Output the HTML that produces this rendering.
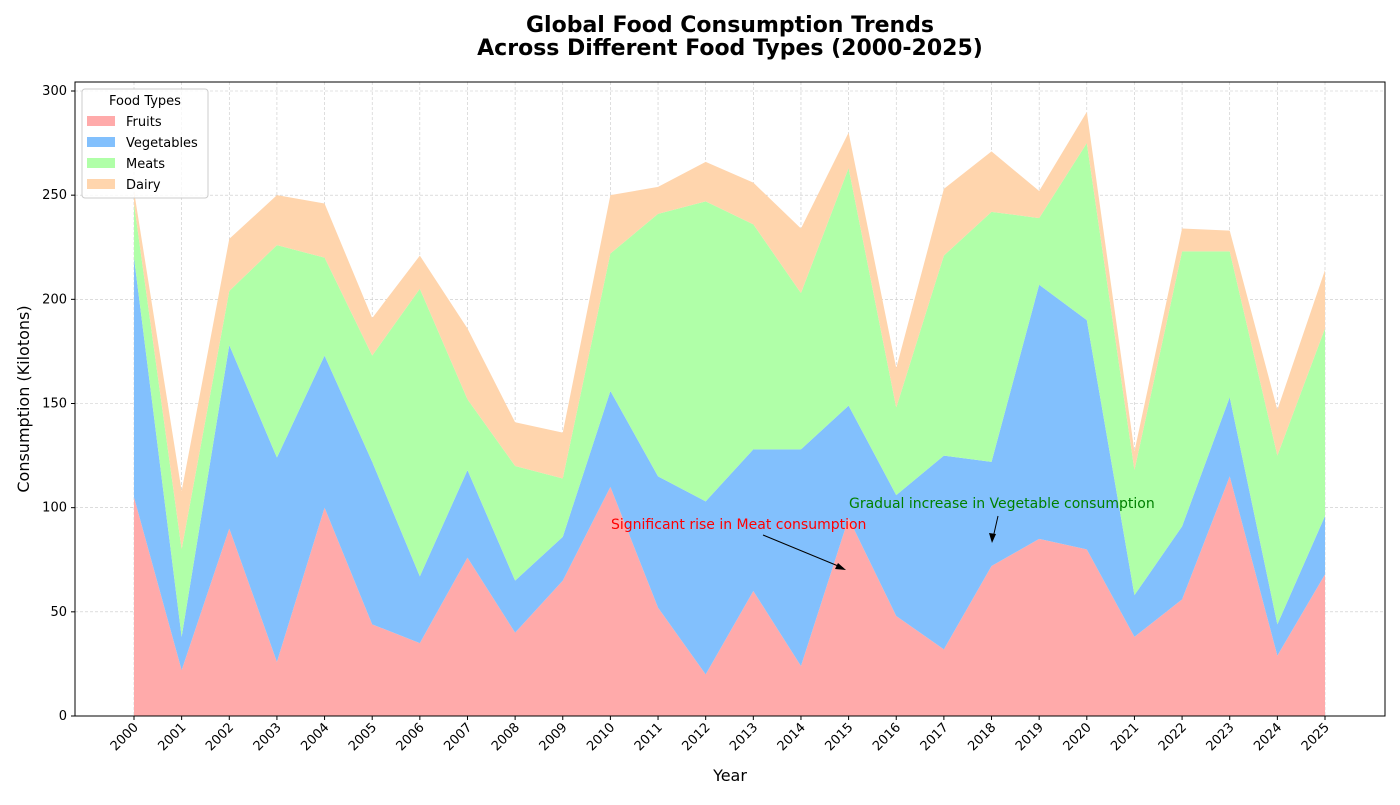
<!DOCTYPE html>
<html><head><meta charset="utf-8"><style>
body{margin:0;background:#fff;font-family:"Liberation Sans","DejaVu Sans",sans-serif}
svg text{font-family:"DejaVu Sans","Liberation Sans",sans-serif}
</style></head><body>
<svg id="c" width="1400" height="800"></svg>
<script>
const years=[2000,2001,2002,2003,2004,2005,2006,2007,2008,2009,2010,2011,2012,2013,2014,2015,2016,2017,2018,2019,2020,2021,2022,2023,2024,2025];
const fruitsCum=[105,22,90,26,100,44,35,76,40,65,110,52,20,60,24,95,48,32,72,85,80,38,56,115,29,68];
const vegCum=[220,38,178,124,173,122,67,118,65,86,156,115,103,128,128,149,106,125,122,207,190,58,91,153,44,96];
const meatCum=[246,80,204,226,220,173,205,152,120,114,222,241,247,236,203,263,148,221,242,239,275,118,223,223,125,186];
const dairyCum=[252,108,229,250,246,191,221,186,141,136,250,254,266,256,234,280,167,253,271,252,290,127,234,233,147,214];
const yTicks=[0,50,100,150,200,250,300];
const seriesNames=["Fruits","Vegetables","Meats","Dairy"];
const colors=["#ffaaaa","#82c0fd","#b0ffa8","#ffd5ad"];
const svg=document.getElementById('c');const NS='http://www.w3.org/2000/svg';
const L=75,R=1385,T=82,B=716;
const x=i=>134+(1325-134)*(years[i]-2000)/25;
const y=v=>716-v*(716-91)/300;
function el(t,a,p){const e=document.createElementNS(NS,t);for(const k in a)e.setAttribute(k,a[k]);(p||svg).appendChild(e);return e;}
yTicks.forEach(v=>{const g=el('line',{x1:L,x2:R,y1:y(v),y2:y(v),stroke:'#c8c8c8','stroke-dasharray':'3,2','stroke-width':0.6});

});
years.forEach((yr,i)=>{const g=el('line',{x1:x(i),x2:x(i),y1:T,y2:B,stroke:'#c8c8c8','stroke-dasharray':'3,2','stroke-width':0.6});

});
const cums=[fruitsCum,vegCum,meatCum,dairyCum];
cums.forEach((c,s)=>{const lower=s?cums[s-1]:years.map(()=>0);
let d='M';years.forEach((_,i)=>d+=x(i)+','+y(c[i])+' L');
for(let i=years.length-1;i>=0;i--)d+=x(i)+','+y(lower[i])+(i?' L':' Z');
const p=el('path',{d:d,fill:colors[s]});

});
el('rect',{x:L,y:T,width:R-L,height:B-T,fill:'none',stroke:'#000','stroke-width':1});
yTicks.forEach(v=>{el('line',{x1:L-4,x2:L,y1:y(v),y2:y(v),stroke:'#000'});
const t=el('text',{x:L-8,y:y(v)+4,'text-anchor':'end','font-size':13});t.textContent=v;

});
years.forEach((yr,i)=>{el('line',{x1:x(i),x2:x(i),y1:B,y2:B+4,stroke:'#000'});
const t=el('text',{x:x(i)+5,y:B+12,'text-anchor':'end','font-size':13,transform:`rotate(-45 ${x(i)+5} ${B+12})`});t.textContent=yr;

});
function txt(s,a,name){const t=el('text',a);t.textContent=s;return t;}
txt('Global Food Consumption Trends',{x:730,y:32,'text-anchor':'middle','font-size':22,'font-weight':'bold'},'chart-title');
txt('Across Different Food Types (2000-2025)',{x:730,y:55,'text-anchor':'middle','font-size':22,'font-weight':'bold'},'chart-subtitle');
txt('Year',{x:730,y:781,'text-anchor':'middle','font-size':16},'x-axis-title');
txt('Consumption (Kilotons)',{x:29,y:399,'text-anchor':'middle','font-size':16,transform:'rotate(-90 29 399)'},'y-axis-title');
el('line',{x1:763,y1:535,x2:843,y2:568,stroke:'#000'});el('path',{d:'M846,570 L835,569 L838,563 Z',fill:'#000'});
txt('Significant rise in Meat consumption',{x:611,y:529,'font-size':14,fill:'red'},'meat-annotation');
el('line',{x1:998,y1:516,x2:993,y2:538,stroke:'#000'});el('path',{d:'M992,543 L989,533 L996,534 Z',fill:'#000'});
txt('Gradual increase in Vegetable consumption',{x:849,y:508,'font-size':14,fill:'green'},'vegetable-annotation');
const lg=el('g',{});
el('rect',{x:82,y:89,width:126,height:109,rx:3,fill:'#fff','fill-opacity':0.8,stroke:'#ccc'},lg);
txt('Food Types',{x:145,y:105,'text-anchor':'middle','font-size':13},'legend-title');
seriesNames.forEach((n,i)=>{const r=el('rect',{x:87,y:116+i*21,width:28,height:10,fill:colors[i]},lg);

txt(n,{x:126,y:126+i*21,'font-size':13},'legend-entry');});
</script>
</body></html>
